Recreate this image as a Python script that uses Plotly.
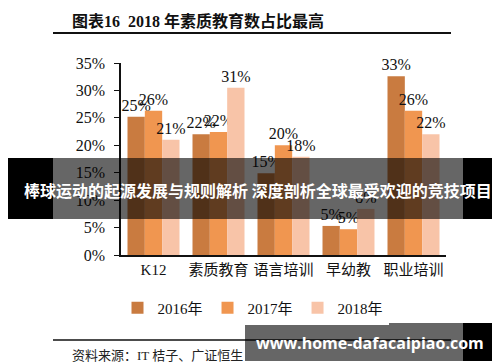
import plotly.graph_objects as go

categories = ["K12", "素质教育", "语言培训", "早幼教", "职业培训"]
series_names = ["2016年", "2017年", "2018年"]
v2016 = [25.2, 22.0, 14.9, 5.3, 32.6]
v2017 = [26.3, 22.4, 20.0, 4.7, 26.3]
v2018 = [21.0, 30.5, 17.9, 8.4, 22.0]
t2016 = ["25%", "22%", "15%", "5%", "33%"]
t2017 = ["26%", "22%", "20%", "5%", "26%"]
t2018 = ["21%", "31%", "18%", "8%", "22%"]
y_ticks = [0, 5, 10, 15, 20, 25, 30, 35]
y_tick_labels = ["0%", "5%", "10%", "15%", "20%", "25%", "30%", "35%"]
colors = ["#C97B40", "#F09650", "#F8C4A8"]

W, H = 500, 362
L, R, T, B = 113, 62, 55, 115
PW, PH = W - L - R, H - T - B

def px(x):
    return (x - L) / PW

def py(y):
    return (H - B - y) / PH

serif = "Liberation Serif, Times New Roman, Noto Sans CJK SC, serif"
fig = go.Figure()
for name, vals, txt, col in zip(series_names, [v2016, v2017, v2018], [t2016, t2017, t2018], colors):
    fig.add_trace(go.Bar(
        x=categories, y=vals, name=name, marker=dict(color=col, line=dict(width=0)),
        text=txt, textposition="outside", cliponaxis=False, constraintext="none",
        textfont=dict(family=serif, size=16, color="#111"),
    ))

shapes = [
    dict(type="line", xref="paper", yref="paper", x0=px(45), x1=px(443), y0=py(25), y1=py(25),
         line=dict(color="#111", width=2)),
    dict(type="line", xref="paper", yref="paper", x0=px(45), x1=px(443), y0=py(332), y1=py(332),
         line=dict(color="#111", width=1.5)),
    # top banner
    dict(type="rect", xref="paper", yref="paper", x0=px(0), x1=px(45), y0=py(150), y1=py(211),
         fillcolor="black", line=dict(width=0), layer="above"),
    dict(type="rect", xref="paper", yref="paper", x0=px(455), x1=px(500), y0=py(150), y1=py(211),
         fillcolor="black", line=dict(width=0), layer="above"),
    dict(type="rect", xref="paper", yref="paper", x0=px(45), x1=px(455), y0=py(150), y1=py(211),
         fillcolor="rgba(0,0,0,0.6)", line=dict(width=0), layer="above"),
    # bottom banner
    dict(type="rect", xref="paper", yref="paper", x0=px(237), x1=px(455), y0=py(315), y1=py(353),
         fillcolor="rgba(0,0,0,0.6)", line=dict(width=0), layer="above"),
    dict(type="rect", xref="paper", yref="paper", x0=px(455), x1=px(491), y0=py(315), y1=py(353),
         fillcolor="black", line=dict(width=0), layer="above"),
]

annotations = [
    dict(text="<b>图表16  2018 年素质教育数占比最高</b>", xref="paper", yref="paper",
         x=px(62), y=py(13), xanchor="left", yanchor="middle", showarrow=False,
         font=dict(family=serif, size=16, color="#111")),
    dict(text="资料来源：IT 桔子、广证恒生", xref="paper", yref="paper",
         x=px(62), y=py(347), xanchor="left", yanchor="middle", showarrow=False,
         font=dict(family=serif, size=13, color="#222")),
    dict(text="<b>棒球运动的起源发展与规则解析 深度剖析全球最受欢迎的竞技项目</b>", xref="paper", yref="paper",
         x=px(250), y=py(182), xanchor="center", yanchor="middle", showarrow=False,
         font=dict(family="Noto Sans CJK SC, sans-serif", size=16, color="white")),
    dict(text="<b>www.home-dafacaipiao.com</b>", xref="paper", yref="paper",
         x=px(362), y=py(335), xanchor="center", yanchor="middle", showarrow=False,
         font=dict(family="Open Sans, DejaVu Sans, sans-serif", size=16, color="white")),
]

fig.update_layout(
    width=W, height=H, margin=dict(l=L, r=R, t=T, b=B),
    paper_bgcolor="white", plot_bgcolor="white",
    barmode="group", bargap=0.2, bargroupgap=0,
    showlegend=True,
    legend=dict(orientation="h", xref="container", yref="container", x=0.49, y=(H - 300) / H,
                xanchor="center", yanchor="middle",
                font=dict(family=serif, size=15, color="#111"), itemwidth=30,
                traceorder="normal"),
    shapes=shapes, annotations=annotations,
    xaxis=dict(showline=True, linecolor="#111", linewidth=1.5, ticks="", showgrid=False,
               tickfont=dict(family=serif, size=15, color="#111")),
    yaxis=dict(range=[0, 35], tickvals=y_ticks, ticktext=y_tick_labels, showline=True,
               linecolor="#111", linewidth=1.5, ticks="outside", ticklen=5, tickcolor="#111",
               showgrid=False, zeroline=False, ticklabelstandoff=6,
               tickfont=dict(family=serif, size=16, color="#111")),
)

fig.write_html("out.html")
